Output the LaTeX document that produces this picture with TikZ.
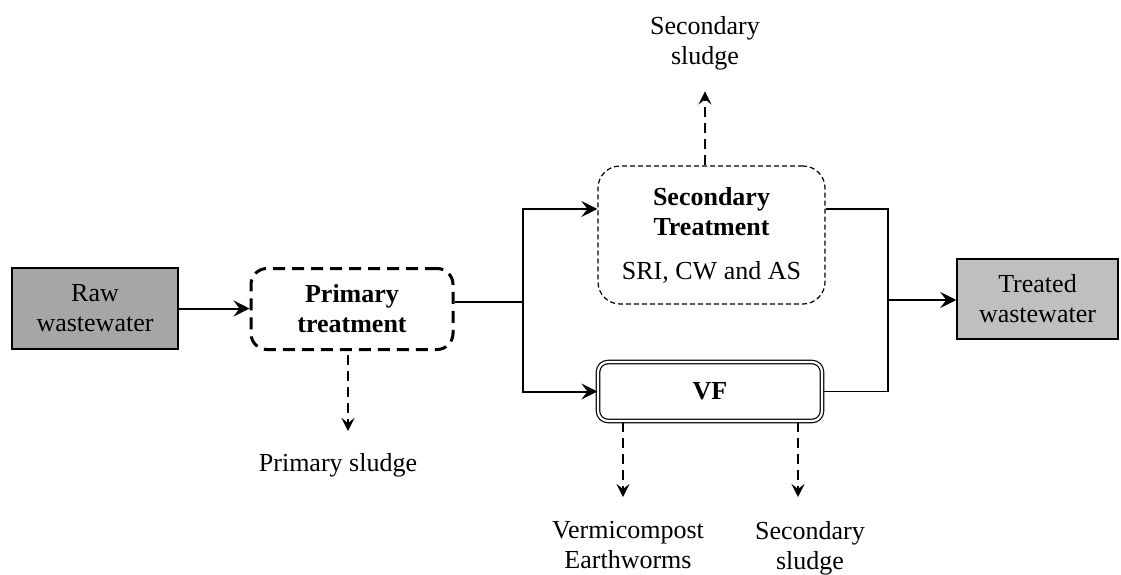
\documentclass[tikz,border=0pt]{standalone}
\usepackage{fontspec}
\setmainfont{Liberation Serif}
\usepackage{xcolor}
\usetikzlibrary{arrows.meta}

\begin{document}
\begin{tikzpicture}[x=0.5pt, y=-0.5pt,
    font=\fontsize{13}{15}\selectfont,
    flow/.style={black, line width=1pt, -{Stealth[length=8pt, width=8pt, inset=3pt]}},
    pipe/.style={black, line width=0.75pt},
    sludge/.style={black, line width=1pt, dash pattern=on 5pt off 3pt, -{Stealth[length=6.5pt, width=6.5pt, inset=2.5pt]}},
    outtext/.style={align=center, inner sep=0pt, anchor=north}]
  \useasboundingbox (0,0) rectangle (1121,574);

  % inflow and outflow
  \node[draw, line width=0.75pt, fill=black!35, minimum width=83pt, minimum height=40.5pt, align=center] (raw) at (95,308.5) {Raw\\wastewater};
  \node[draw, line width=0.75pt, fill=black!25, minimum width=80.5pt, minimum height=40pt, align=center] (treated) at (1037.5,299) {Treated\\wastewater};

  % treatment stages
  \node[draw, line width=1.5pt, dash pattern=on 6pt off 3.5pt, rounded corners=8pt, minimum width=101pt, minimum height=40.5pt, align=center, font=\fontsize{13}{15}\selectfont\bfseries] (prim) at (352,309) {Primary\\treatment};
  \node[draw, line width=0.6pt, dash pattern=on 2.5pt off 1.5pt, rounded corners=11pt, minimum width=113.5pt, minimum height=69pt, align=center] (sec) at (711.5,235) {\textbf{Secondary}\\\textbf{Treatment}\\[7pt]SRI, CW and AS};
  \node[draw, line width=0.6pt, double, double distance=1.1pt, rounded corners=5pt, minimum width=112pt, minimum height=29.5pt, font=\fontsize{13}{15}\selectfont\bfseries] (vf) at (710,391.5) {VF};

  % by-product labels
  \node[outtext] (topsl) at (705,16) {Secondary\\sludge};
  \node[outtext] (primsl) at (338,453) {Primary sludge};
  \node[outtext] (verm) at (628,521) {Vermicompost\\Earthworms};
  \node[outtext] (vfsl) at (810,521) {Secondary\\sludge};

  \coordinate (split) at (523,302);
  \coordinate (merge) at (888,300);
  \coordinate (secin) at ([yshift=13pt]sec.west);
  \coordinate (secout) at ([yshift=13pt]sec.east);
  \coordinate (primout) at (348,355);
  \coordinate (vfa) at (623,422);
  \coordinate (vfb) at (798,422);

  % main line
  \draw[flow] (raw) -- (raw -| prim.west);
  \draw[pipe] (prim.east |- split) -- (split);
  \draw[flow] (split) |- (secin);
  \draw[flow] (split) |- (vf.west);
  \draw[pipe] (secout) -| (merge) |- (vf.east);
  \draw[flow] (merge) -- (treated.west |- merge);

  % sludge streams
  \draw[sludge] (sec.north -| topsl) -- ++(0,-74);
  \draw[sludge, shorten >=11pt] (primout) -- (primout |- primsl.north);
  \draw[sludge, shorten >=12pt] (vfa) -- (vfa |- verm.north);
  \draw[sludge, shorten >=12pt] (vfb) -- (vfb |- vfsl.north);
\end{tikzpicture}
\end{document}
